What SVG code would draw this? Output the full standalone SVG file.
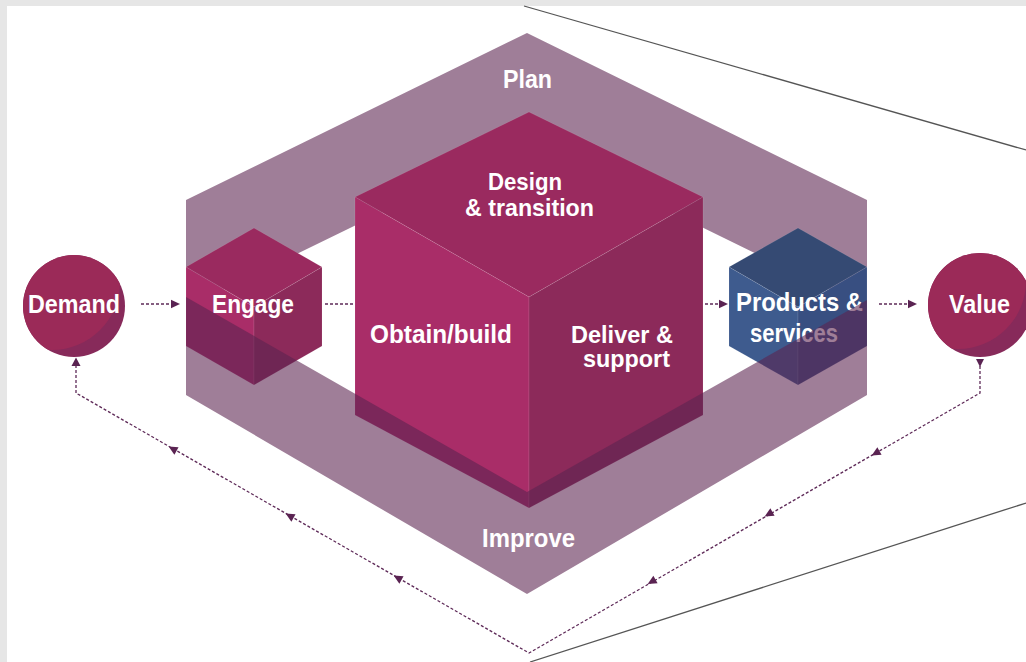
<svg xmlns="http://www.w3.org/2000/svg" xmlns:xlink="http://www.w3.org/1999/xlink" width="1026" height="662" viewBox="0 0 1026 662">
<style>
.lbl{font-family:"Liberation Sans",Arial,sans-serif;font-weight:bold;font-size:26px;fill:#ffffff;}
.ml{font-size:24.5px;}
.band{fill:#5b2450;fill-opacity:0.59;}
.dash{fill:none;stroke:#5e2a58;stroke-width:1.3;stroke-dasharray:3 2;}
.ah{fill:#5a2352;}
.ctop{fill:#9a2a5f;}
.cleft{fill:#a92d68;}
.cright{fill:#8c2a5a;}
.ptop{fill:#354a73;}
.pleft{fill:#3e5b8e;}
.pright{fill:#384f81;}
.edge{stroke:#ffffff;stroke-opacity:0.12;stroke-width:0.8;}
.frame{stroke:#555555;stroke-width:1.3;fill:none;}
</style>
<defs>
<path id="ahd" d="M5,0 L-4,-4.2 L-4,4.2 Z"/>
<clipPath id="clipDemand"><circle cx="74" cy="306" r="51"/></clipPath>
<clipPath id="clipValue"><circle cx="980" cy="305" r="52"/></clipPath>
</defs>

<rect x="0" y="0" width="1026" height="662" fill="#e6e6e6"/>
<rect x="7" y="6" width="1019" height="656" fill="#ffffff"/>

<g id="frame-lines">
<line class="frame" x1="524" y1="6" x2="1026" y2="150"/>
<line class="frame" x1="530" y1="662" x2="1026" y2="503"/>
</g>

<g id="plan">
<polygon class="band" points="186,200 527,33 867,200 867,308 527,141.6 186,308"/>
<text class="lbl" x="503" y="88" textLength="49" lengthAdjust="spacingAndGlyphs">Plan</text>
</g>

<g id="connectors">
<line class="dash" x1="141" y1="304" x2="173" y2="304"/>
<use xlink:href="#ahd" class="ah" transform="translate(175,304)"/>
<line class="dash" x1="325" y1="304" x2="720" y2="304"/>
<use xlink:href="#ahd" class="ah" transform="translate(723,304)"/>
<line class="dash" x1="879" y1="304" x2="910" y2="304"/>
<use xlink:href="#ahd" class="ah" transform="translate(912,304)"/>
<path class="dash" d="M980,366 L980,393 L529,653 L76,393 L76,366"/>
<polygon class="ah" points="976,359 984,359 980,367"/>
<polygon class="ah" points="71.5,366 80.5,366 76,357.5"/>
<use xlink:href="#ahd" class="ah" transform="translate(876,453) rotate(150)"/>
<use xlink:href="#ahd" class="ah" transform="translate(769,514) rotate(150)"/>
<use xlink:href="#ahd" class="ah" transform="translate(652,581.5) rotate(150)"/>
<use xlink:href="#ahd" class="ah" transform="translate(173,449) rotate(209.85)"/>
<use xlink:href="#ahd" class="ah" transform="translate(290,516) rotate(209.85)"/>
<use xlink:href="#ahd" class="ah" transform="translate(398,578) rotate(209.85)"/>
</g>

<g id="demand">
<circle cx="74" cy="306" r="51" fill="#872a5a"/>
<circle cx="52" cy="282" r="68" fill="#9b2a58" clip-path="url(#clipDemand)"/>
<text class="lbl" x="28" y="313" textLength="92" lengthAdjust="spacingAndGlyphs">Demand</text>
</g>

<g id="value">
<circle cx="980" cy="305" r="52" fill="#872a5a"/>
<circle cx="958" cy="281" r="68" fill="#9b2a58" clip-path="url(#clipValue)"/>
<text class="lbl" x="949" y="313" textLength="61" lengthAdjust="spacingAndGlyphs">Value</text>
</g>

<g id="engage">
<polygon class="ctop edge" points="254,228 322,267 254,307 186,267"/>
<polygon class="cleft edge" points="186,267 254,307 254,385 186,346"/>
<polygon class="cright edge" points="254,307 322,267 322,346 254,385"/>
<text class="lbl" x="212" y="313" textLength="82" lengthAdjust="spacingAndGlyphs">Engage</text>
</g>

<g id="value-chain">
<polygon class="ctop edge" points="529,112 703,197 529,297 355,197"/>
<polygon class="cleft edge" points="355,197 529,297 529,508 355,415"/>
<polygon class="cright edge" points="529,297 703,197 703,415 529,508"/>
<text class="lbl ml" x="488" y="190" textLength="74" lengthAdjust="spacingAndGlyphs">Design</text>
<text class="lbl ml" x="465" y="216" textLength="129" lengthAdjust="spacingAndGlyphs">&amp; transition</text>
<text class="lbl" x="370" y="343" textLength="142" lengthAdjust="spacingAndGlyphs">Obtain/build</text>
<text class="lbl ml" x="571" y="343" textLength="102" lengthAdjust="spacingAndGlyphs">Deliver &amp;</text>
<text class="lbl ml" x="583" y="367" textLength="87" lengthAdjust="spacingAndGlyphs">support</text>
</g>

<g id="products">
<polygon class="ptop edge" points="798,228 867,267 798,307 729,267"/>
<polygon class="pleft edge" points="729,267 798,307 798,385 729,346"/>
<polygon class="pright edge" points="798,307 867,267 867,346 798,385"/>
<text class="lbl" x="736" y="311" textLength="127" lengthAdjust="spacingAndGlyphs">Products &amp;</text>
<text class="lbl" x="750" y="342" textLength="88" lengthAdjust="spacingAndGlyphs">services</text>
</g>

<g id="improve">
<polygon class="band" points="186,297 527,492 867,300 867,395 527,594 186,395"/>
<text class="lbl" x="482" y="547" textLength="93" lengthAdjust="spacingAndGlyphs">Improve</text>
</g>
</svg>
